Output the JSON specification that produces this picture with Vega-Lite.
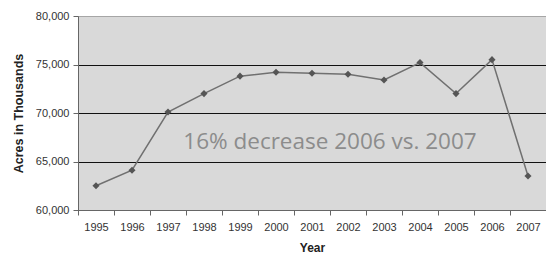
{
  "$schema": "https://vega.github.io/schema/vega-lite/v6.json",
  "width": 468,
  "height": 194,
  "autosize": {"type": "none"},
  "padding": {"left": 78, "top": 16, "right": 0, "bottom": 54},
  "background": "white",
  "config": {
    "view": {"fill": "#d9d9d9", "stroke": "#a6a6a6", "strokeWidth": 1},
    "font": "Liberation Sans"
  },
  "data": {
    "values": [
      {"year": "1995", "acres": 62500},
      {"year": "1996", "acres": 64100},
      {"year": "1997", "acres": 70100},
      {"year": "1998", "acres": 72000},
      {"year": "1999", "acres": 73800},
      {"year": "2000", "acres": 74200},
      {"year": "2001", "acres": 74100},
      {"year": "2002", "acres": 74000},
      {"year": "2003", "acres": 73400},
      {"year": "2004", "acres": 75200},
      {"year": "2005", "acres": 72000},
      {"year": "2006", "acres": 75500},
      {"year": "2007", "acres": 63500}
    ]
  },
  "layer": [
    {
      "mark": {"type": "line", "color": "#707070", "strokeWidth": 1.5},
      "encoding": {
        "x": {
          "field": "year", "type": "ordinal",
          "scale": {"paddingInner": 0, "paddingOuter": 0},
          "axis": {
            "title": "Year", "titleFontWeight": "bold", "titleFontSize": 12, "titleColor": "#222",
            "titlePadding": 10,
            "labelAngle": 0, "labelFontSize": 11, "labelColor": "#333", "labelPadding": 6,
            "tickBand": "extent", "tickSize": 5, "tickColor": "#666", "domainColor": "#666",
            "grid": false
          }
        },
        "y": {
          "field": "acres", "type": "quantitative",
          "scale": {"domain": [60000, 80000], "nice": false},
          "axis": {
            "title": "Acres in Thousands", "titleFontWeight": "bold", "titleFontSize": 12.5, "titleColor": "#222",
            "titlePadding": 10,
            "values": [60000, 65000, 70000, 75000, 80000],
            "format": ",d", "labelFontSize": 11, "labelColor": "#333", "labelPadding": 4,
            "tickSize": 5, "tickColor": "#666", "domainColor": "#666",
            "grid": true, "gridOpacity": 1, "gridWidth": 1,
            "gridColor": {"condition": {"test": "datum.value == 80000", "value": "#a6a6a6"}, "value": "#111"}
          }
        }
      }
    },
    {
      "mark": {"type": "point", "shape": "diamond", "filled": true, "color": "#555555", "size": 50, "opacity": 1},
      "encoding": {
        "x": {"field": "year", "type": "ordinal"},
        "y": {"field": "acres", "type": "quantitative"}
      }
    },
    {
      "data": {"values": [{"year": "2002", "acres": 67000, "label": "16% decrease 2006 vs. 2007"}]},
      "mark": {"type": "text", "align": "center", "baseline": "middle", "font": "Open Sans", "fontSize": 22.5, "color": "#8c8c8c"},
      "encoding": {
        "x": {"field": "year", "type": "ordinal", "bandPosition": 0},
        "y": {"field": "acres", "type": "quantitative"},
        "text": {"field": "label"}
      }
    }
  ]
}
